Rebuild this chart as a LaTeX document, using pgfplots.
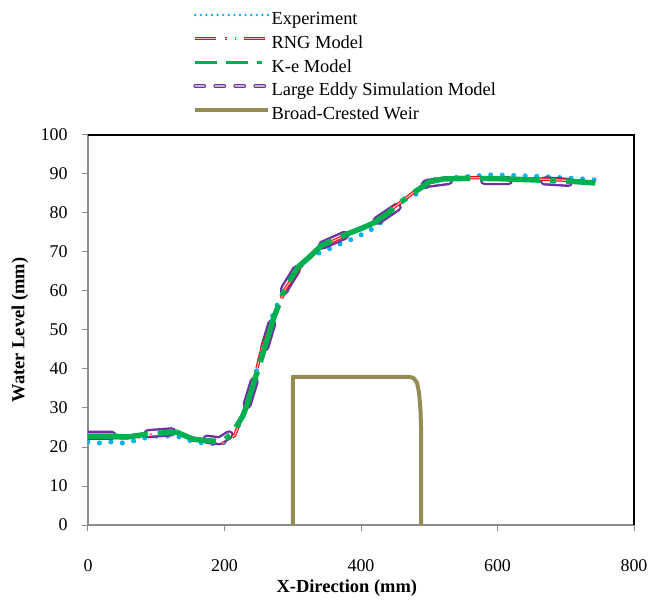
\documentclass[border=0pt]{standalone}
\usepackage{fontspec}
\setmainfont{Liberation Serif}
\usepackage{pgfplots}
\pgfplotsset{compat=1.18}
\definecolor{expc}{HTML}{00B0F0}
\definecolor{rngc}{HTML}{FF0000}
\definecolor{rngin}{HTML}{FFB0B0}
\definecolor{kec}{HTML}{00B050}
\definecolor{lesc}{HTML}{7030A0}
\definecolor{lesin}{HTML}{C4B3DD}
\definecolor{weirc}{HTML}{948A54}
\newcommand\fs{\fontsize{18}{21.6}\selectfont}

\begin{document}
\begin{tikzpicture}
\begin{axis}[
    scale only axis,
    width=546bp, height=390bp,
    xmin=0, xmax=800, ymin=0, ymax=100,
    xtick={0,200,400,600,800},
    ytick={0,10,...,100},
    /pgf/number format/assume math mode=true,
    axis line style={draw=gray!90, line width=1.3bp},
    tick style={draw=gray!90, line width=1bp},
    tick align=outside, major tick length=6bp,
    xtick pos=bottom, ytick pos=left,
    ticklabel style={font=\fs},
    xticklabel style={yshift=-25bp},
    yticklabel style={xshift=-11bp},
    xlabel={\textbf{X-Direction (mm)}},
    ylabel={\textbf{Water Level (mm)}},
    label style={font=\fontsize{18.5}{22}\selectfont},
    xlabel style={at={(axis description cs:0.474,-0.1615)}, anchor=center},
    ylabel style={at={(axis description cs:-0.1245,0.5)}, anchor=center},
    clip mode=individual,
    legend image code/.code={\draw[#1] (0bp,5bp) -- (73bp,5bp);},
    legend style={draw=none, fill=none, at={(axis description cs:0.1925,1.323)},
        anchor=north west, inner sep=0pt, row sep=2.2bp, font=\fontsize{18.5}{22}\selectfont,
        nodes={inner sep=1.5bp, text height=14bp, text depth=4.5bp},
        cells={anchor=west}},
]
% legend entries in the original order
\addlegendimage{color=expc, line width=2.6bp, line cap=round, dash pattern=on 0bp off 5.6bp}
\addlegendentry{Experiment}
\addlegendimage{color=rngc, line width=1bp, double=rngin, double distance=1.4bp,
    dash pattern=on 21bp off 9bp on 1.5bp off 8bp on 1.5bp off 8bp}
\addlegendentry{RNG Model}
\addlegendimage{color=kec, line width=3.6bp, dash pattern=on 22bp off 9bp on 22bp off 9bp on 5bp off 9bp}
\addlegendentry{K-e Model}
\addlegendimage{color=lesc, line width=1.1bp, double=lesin, double distance=1.6bp,
    line cap=round, dash pattern=on 9bp off 11bp}
\addlegendentry{Large Eddy Simulation Model}
\addlegendimage{color=weirc, line width=3.6bp}
\addlegendentry{Broad-Crested Weir}

% Experiment
\addplot[forget plot, color=expc, line width=5bp, line cap=round, dash pattern=on 0bp off 11.5bp]
coordinates {
(0,21.3) (16,21.0) (32,21.3) (49,21.0) (66,21.5) (83,22.3) (100,22.8) (117,22.8)
(135,22.6) (152,21.5) (169,21.0) (186,20.8) (200,21.2) (213,23.0) (222,26.0)
(230,29.5) (238,34.0) (246,39.0) (254,44.0) (262,49.0) (270,53.5) (280,57.5)
(290,61.0) (300,64.0) (320,68.3) (335,69.5) (350,70.5) (365,71.8) (381,72.8)
(396,74.1) (410,75.1) (428,77.4) (442,80.0) (467,83.8) (484,85.1) (494,87.4)
(510,88.5) (530,89.0) (560,89.4) (593,89.8) (610,89.7) (630,89.6) (660,89.4)
(690,89.1) (720,88.8) (750,88.4)
};
% Large Eddy Simulation
\addplot[forget plot, color=lesc, line width=2.4bp, double=white, double distance=4.4bp,
    line cap=round, line join=round, dash pattern=on 24bp off 36bp]
coordinates {
(0,23.0) (44,23.0) (86,23.4) (130,24.0) (150,23.0) (174,22.0) (193,21.6) (211,23.6)
(227,28.0) (233,30.8) (245,37.7) (259,45.6) (271,52.6) (289,60.8) (308,66.2)
(325,69.0) (344,71.8) (384,74.9) (405,76.5) (425,78.2) (457,82.0) (475,85.0)
(497,87.6) (541,88.6) (584,88.3) (630,88.3) (672,88.2) (718,87.7) (745,87.6)
};
% RNG
\addplot[forget plot, color=rngc, line width=1bp, double=rngin, double distance=1.3bp,
    dash pattern=on 40bp off 10bp on 2bp off 10bp on 2bp off 10bp]
coordinates {
(0,22.5) (60,22.3) (90,23.0) (130,23.6) (154,22.3) (165,21.8) (180,21.3) (200,21.0)
(215,23.0) (227,28.5) (235,31.0) (255,45.5) (268,51.0) (289,60.5) (310,66.0)
(343,71.5) (384,74.8) (420,77.8) (457,82.6) (490,87.0) (510,88.9) (540,89.1)
(600,89.0) (650,88.8) (700,88.4) (745,88.0)
};
% K-e
\addplot[forget plot, color=kec, line width=5.4bp, line join=round,
    dash pattern=on 60bp off 10bp on 60bp off 10bp on 6bp off 10bp]
coordinates {
(0,22.8) (30,22.8) (60,22.6) (86,23.3) (110,23.6) (130,23.8) (154,22.0) (175,21.6)
(196,21.4) (211,23.4) (227,28.0) (233,30.8) (245,37.7) (249,39.7) (259,45.6)
(267,50.0) (271,52.6) (284,58.5) (289,60.8) (308,66.2) (325,68.8) (343,71.8)
(365,73.5) (384,74.9) (400,76.0) (418,77.4) (425,78.2) (440,80.0) (457,82.6)
(475,85.0) (491,86.8) (500,88.0) (520,88.7) (560,88.9) (600,88.8) (650,88.5)
(700,88.2) (743,87.7)
};
% Weir
\addplot[forget plot, color=weirc, line width=4bp, line join=round]
coordinates {
(300,0) (300,38) (470,38) (477,37.7) (482,36.5) (485,34) (487,30) (488,25) (488,0)
};
\draw[black, line width=1.3bp] (rel axis cs:0,1) -- (rel axis cs:1,1) -- (rel axis cs:1,0);
\end{axis}
\pgfresetboundingbox
\path[use as bounding box] (-88bp,-76bp) rectangle (569bp,525bp);
\end{tikzpicture}
\end{document}
